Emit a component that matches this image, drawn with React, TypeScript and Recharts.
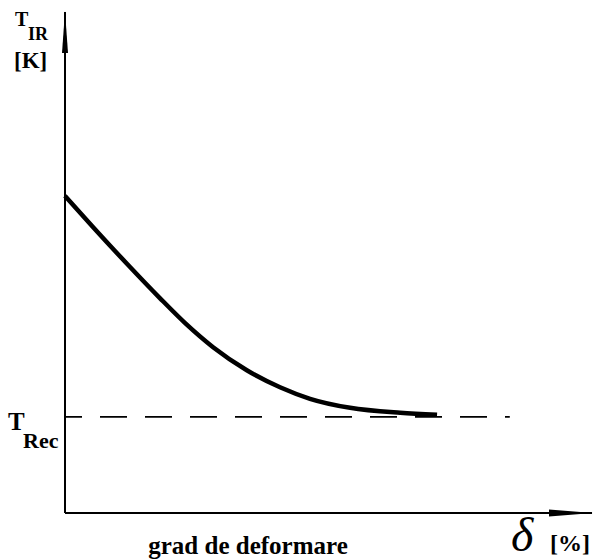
import React from 'react';
import { LineChart, Line, XAxis, YAxis, ReferenceLine, Label } from 'recharts';

// values (arbitrary 0-100 units on both axes)
const deformation = [0, 5.3, 11.8, 18.0, 22.8, 28.1, 34.5, 40.8, 46.5, 54.1, 63.6, 70.6];
const irTemperature = [63.3, 57.1, 49.7, 42.9, 37.9, 33.1, 28.5, 25.1, 22.8, 21.0, 20.0, 19.6];
const recTemperature = 19.2;
const dashedEnd = 84.4;
const xLabel = 'grad de deformare';
const xUnit = '[%]';
const yUnit = '[K]';

const data = deformation.map((d, i) => ({ d, t: irTemperature[i] }));

const bold = { fontFamily: 'Liberation Serif', fontWeight: 'bold' as const };

const RecTick = (props: any) => {
  const { x, y } = props;
  return (
    <g>
      <text x={x - 57} y={y + 13} fill="#000" style={{ ...bold, fontSize: 25 }}>T</text>
      <text x={x - 42} y={y + 31} fill="#000" style={{ ...bold, fontSize: 22 }}>Rec</text>
    </g>
  );
};

const YTitle = (props: any) => {
  const { x, y, width } = props.viewBox;
  const ax = x + width;
  return (
    <g>
      <text x={ax - 50} y={y + 14} fill="#000" style={{ ...bold, fontSize: 20 }}>T</text>
      <text x={ax - 37} y={y + 28} fill="#000" style={{ ...bold, fontSize: 18 }}>IR</text>
      <text x={ax - 51} y={y + 56} fill="#000" style={{ ...bold, fontSize: 23 }}>{yUnit}</text>
    </g>
  );
};

const XTitle = (props: any) => {
  const { x, y } = props.viewBox;
  return (
    <g>
      <text x={x + 183} y={y + 41} fill="#000" textAnchor="middle" style={{ ...bold, fontSize: 25 }}>{xLabel}</text>
      <text x={x + 446} y={y + 38} fill="#000" style={{ fontFamily: 'Liberation Serif', fontStyle: 'italic', fontSize: 48 }}>δ</text>
      <text x={x + 485} y={y + 38} fill="#000" style={{ ...bold, fontSize: 24 }}>{xUnit}</text>
    </g>
  );
};

export default function App() {
  return (
    <div style={{ position: 'absolute', left: 0, top: 0, background: '#fff' }}>
      <LineChart width={596} height={560} data={data} margin={{ top: 12, right: 4, bottom: 0, left: 0 }}>
        <defs>
          <marker id="arrowX" markerUnits="userSpaceOnUse" markerWidth={44} markerHeight={10} viewBox="0 0 44 10" refX={43} refY={5} orient="auto">
            <path d="M0,1.5 L44,5 L0,8.5 z" fill="#000" />
          </marker>
          <marker id="arrowY" markerUnits="userSpaceOnUse" markerWidth={42} markerHeight={8} viewBox="0 0 42 8" refX={41} refY={4} orient="auto-start-reverse">
            <path d="M0,1 L42,4 L0,7 z" fill="#000" />
          </marker>
        </defs>
        <XAxis
          type="number"
          dataKey="d"
          domain={[0, 100]}
          height={47}
          tick={false}
          tickLine={false}
          axisLine={{ stroke: '#000', strokeWidth: 2, markerEnd: 'url(#arrowX)' }}
        >
          <Label content={<XTitle />} />
        </XAxis>
        <YAxis
          type="number"
          domain={[0, 100]}
          width={65}
          ticks={[recTemperature]}
          tick={<RecTick />}
          tickLine={false}
          tickSize={0}
          tickMargin={0}
          axisLine={{ stroke: '#000', strokeWidth: 2, markerStart: 'url(#arrowY)' }}
        >
          <Label content={<YTitle />} />
        </YAxis>
        <ReferenceLine
          segment={[{ x: 0, y: recTemperature }, { x: dashedEnd, y: recTemperature }]}
          stroke="#000"
          strokeWidth={1.8}
          strokeDasharray="27 18"
          strokeDashoffset={10}
        />
        <Line
          type="monotone"
          dataKey="t"
          stroke="#000"
          strokeWidth={4.5}
          dot={false}
          isAnimationActive={false}
        />
      </LineChart>
    </div>
  );
}
